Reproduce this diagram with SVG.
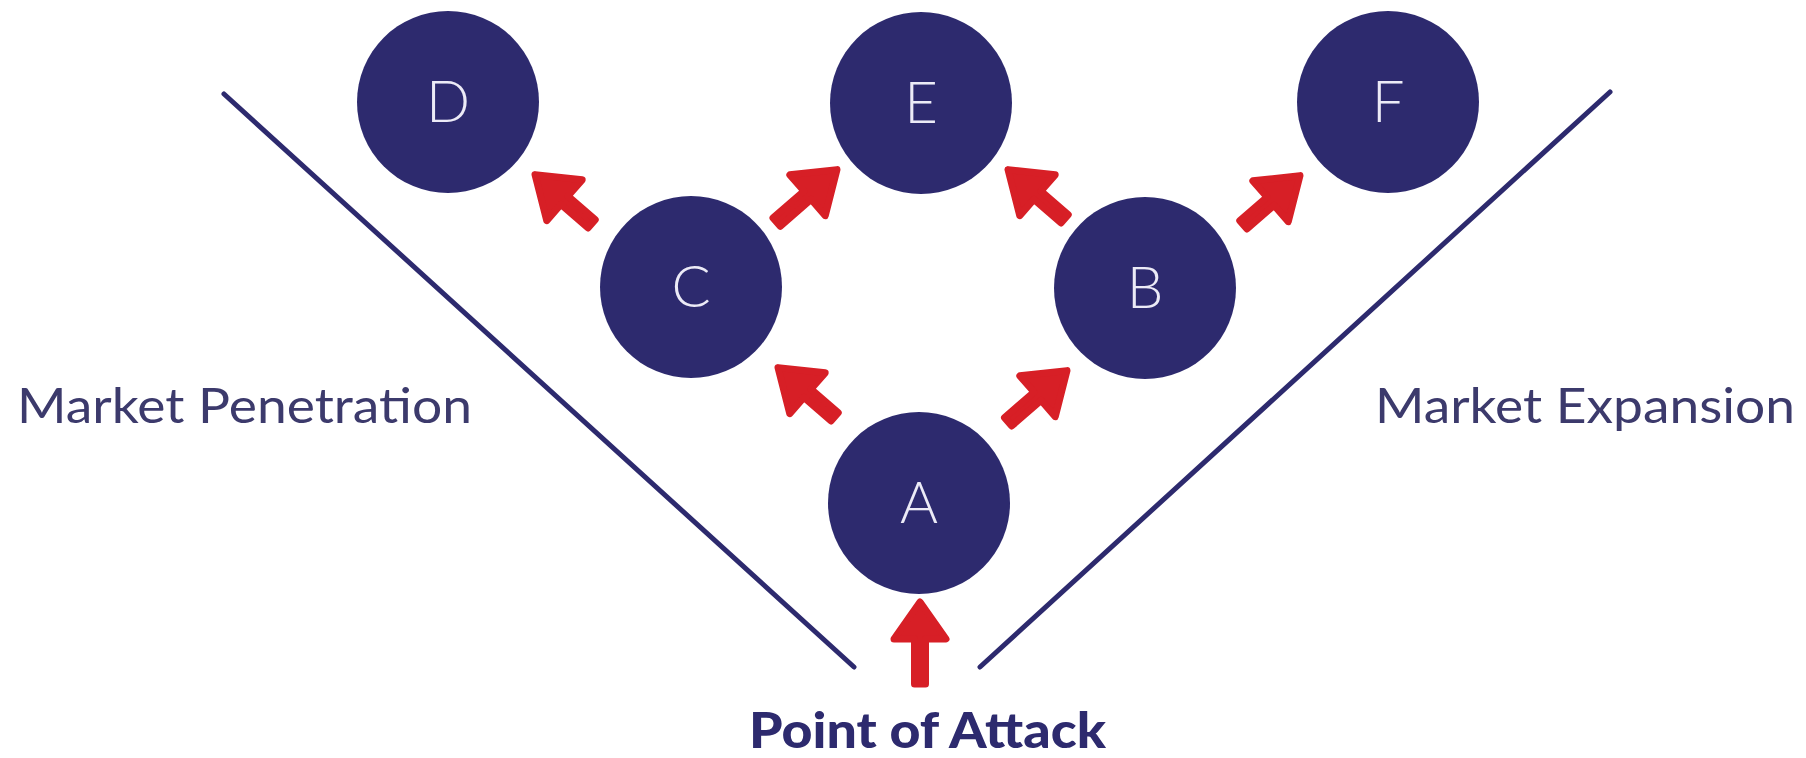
<svg xmlns="http://www.w3.org/2000/svg" width="1806" height="758" viewBox="0 0 1806 758">
<style>
.node{fill:#2d2a6e}
.lbl{font-family:Lato,"Noto Sans","Liberation Sans",sans-serif;font-weight:300;font-size:58px;fill:#ecebf7;text-anchor:middle}
.side{font-family:Lato,"Noto Sans","Liberation Sans",sans-serif;font-weight:400;font-size:48px;fill:#3c3a6c}
.title{font-family:Lato,"Noto Sans","Liberation Sans",sans-serif;font-weight:900;font-size:50px;fill:#2d2a6e}
.guide{stroke:#2d2a6e;stroke-width:5;stroke-linecap:round;fill:none}
.arr{fill:#d71f26;stroke:#d71f26;stroke-width:7;stroke-linejoin:round;stroke-linecap:round}
</style>
<rect width="1806" height="758" fill="#ffffff"/>
<g id="guides">
<line class="guide" x1="224" y1="94" x2="854" y2="667"/>
<line class="guide" x1="1610" y1="92" x2="980" y2="667"/>
</g>
<g id="connectors">
<path class="arr" transform="translate(920,598)" d="M0,4 L26,41 L5.5,41 L5.5,86 L-5.5,86 L-5.5,41 L-26,41 Z"/>
<path class="arr" transform="translate(775,365) rotate(-49)" d="M0,4 L27,43 L5.5,43 L5.5,79 L-5.5,79 L-5.5,43 L-27,43 Z"/>
<path class="arr" transform="translate(1070,368) rotate(49)" d="M0,4 L27,43 L5.5,43 L5.5,82 L-5.5,82 L-5.5,43 L-27,43 Z"/>
<path class="arr" transform="translate(532,172) rotate(-49)" d="M0,4 L27,43 L5.5,43 L5.5,79 L-5.5,79 L-5.5,43 L-27,43 Z"/>
<path class="arr" transform="translate(840,167) rotate(49)" d="M0,4 L27,43 L5.5,43 L5.5,84 L-5.5,84 L-5.5,43 L-27,43 Z"/>
<path class="arr" transform="translate(1005,167) rotate(-49)" d="M0,4 L27,43 L5.5,43 L5.5,79 L-5.5,79 L-5.5,43 L-27,43 Z"/>
<path class="arr" transform="translate(1303,173) rotate(49)" d="M0,4 L27,43 L5.5,43 L5.5,79 L-5.5,79 L-5.5,43 L-27,43 Z"/>
</g>
<g id="node-D"><circle class="node" cx="448" cy="102" r="91"/><text class="lbl" x="448" y="122">D</text></g>
<g id="node-E"><circle class="node" cx="921" cy="103" r="91"/><text class="lbl" x="921" y="123">E</text></g>
<g id="node-F"><circle class="node" cx="1388" cy="102" r="91"/><text class="lbl" x="1388" y="122">F</text></g>
<g id="node-C"><circle class="node" cx="691" cy="287" r="91"/><text class="lbl" x="691" y="307">C</text></g>
<g id="node-B"><circle class="node" cx="1145" cy="288" r="91"/><text class="lbl" x="1145" y="308">B</text></g>
<g id="node-A"><circle class="node" cx="919" cy="503" r="91"/><text class="lbl" x="919" y="523">A</text></g>
<g id="labels">
<text class="side" x="17" y="423" textLength="455" lengthAdjust="spacingAndGlyphs">Market Penetration</text>
<text class="side" x="1375" y="423" textLength="420" lengthAdjust="spacingAndGlyphs">Market Expansion</text>
<text class="title" x="749" y="748" textLength="357" lengthAdjust="spacingAndGlyphs">Point of Attack</text>
</g>
</svg>
